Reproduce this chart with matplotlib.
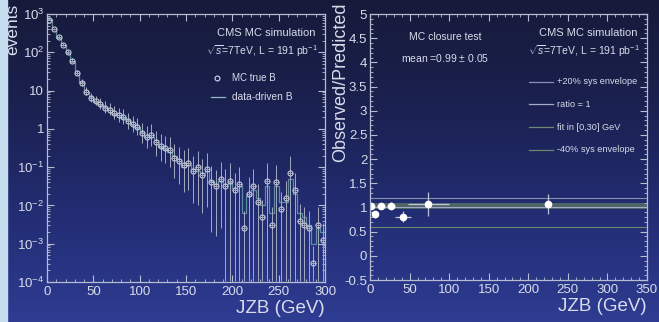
import numpy as np
import matplotlib
matplotlib.use("Agg")
import matplotlib.pyplot as plt
from matplotlib.ticker import MultipleLocator, FuncFormatter
from matplotlib.colors import LinearSegmentedColormap

plt.rcParams['font.family'] = ['Liberation Sans', 'DejaVu Sans']
plt.rcParams['mathtext.fontset'] = 'custom'
plt.rcParams['mathtext.rm'] = 'Liberation Sans'
plt.rcParams['mathtext.it'] = 'Liberation Sans:italic'
plt.rcParams['mathtext.bf'] = 'Liberation Sans:bold'

# ---------------- data: left panel ----------------
jzb_centers = [2.5 + 5 * i for i in range(60)]
mc_true_log = [2.85, 2.6, 2.4, 2.2, 2.0, 1.78, 1.45, 1.2, 0.97, 0.8,
               0.72, 0.65, 0.55, 0.5, 0.42, 0.35, 0.3, 0.2, 0.12, 0.05,
               -0.1, -0.2, -0.15, -0.35, -0.45, -0.5, -0.55, -0.75, -0.85, -0.95,
               -0.9, -1.1, -1.0, -1.2, -1.05, -1.4, -1.5, -1.3, -1.5, -1.35,
               -1.6, -1.45, -2.6, -1.7, -1.5, -1.9, -2.3, -1.35, -2.5, -1.4,
               -2.1, -1.8, -1.15, -1.6, -2.4, -2.5, -2.6, -3.5, -2.5, -2.9]
data_driven_log = [2.88, 2.62, 2.38, 2.18, 1.98, 1.75, 1.47, 1.22, 0.95, 0.82,
                   0.7, 0.63, 0.57, 0.48, 0.4, 0.37, 0.28, 0.22, 0.1, 0.02,
                   -0.08, -0.22, -0.2, -0.3, -0.48, -0.52, -0.6, -0.7, -0.8, -1.0,
                   -0.95, -1.05, -1.1, -1.15, -1.1, -1.35, -1.45, -1.35, -1.45, -1.4,
                   -1.55, -1.5, -2.2, -1.75, -1.6, -1.8, -2.0, -1.5, -2.2, -1.5,
                   -1.9, -1.9, -1.3, -1.7, -2.2, -2.3, -2.5, -3.0, -2.6, -2.7]
rel_err = [0.04, 0.05, 0.06, 0.07, 0.08, 0.1, 0.12, 0.15, 0.18, 0.2,
           0.22, 0.24, 0.26, 0.28, 0.3, 0.32, 0.34, 0.36, 0.38, 0.4,
           0.45, 0.5, 0.5, 0.55, 0.6, 0.6, 0.65, 0.7, 0.75, 0.8,
           0.8, 0.85, 0.9, 0.9, 0.9, 0.95, 0.95, 0.95, 1.0, 1.0,
           1.0, 1.0, 1.0, 1.0, 1.0, 1.0, 1.0, 1.0, 1.0, 1.0,
           1.0, 1.0, 1.0, 1.0, 1.0, 1.0, 1.0, 1.0, 1.0, 1.0]

# ---------------- data: right panel ----------------
ratio_x = [1.3, 6.3, 13.9, 26.5, 42.0, 73.7, 225.4]
ratio_xerr = [1.3, 2.5, 5.0, 5.0, 10.0, 26.0, 0.0]
ratio_y = [1.04, 0.86, 1.04, 1.04, 0.81, 1.08, 1.07]
ratio_yerr = [0.05, 0.07, 0.06, 0.08, 0.12, 0.25, 0.2]
fit_band = (0.96, 1.10)
envelope_up = 1.2
envelope_down = 0.6
ratio_one = 1.0

fig = plt.figure(figsize=(6.59, 3.22), dpi=100)

# background gradient
bg = fig.add_axes([0, 0, 1, 1], zorder=-10)
grad = np.linspace(0, 1, 256).reshape(-1, 1)
cmap = LinearSegmentedColormap.from_list("bg", ["#161a3a", "#1b2150", "#232d74", "#2e3c92"])
bg.imshow(grad, aspect='auto', cmap=cmap, extent=[0, 1, 0, 1], origin='upper')
bg.add_patch(plt.Rectangle((0, 0), 7 / 659, 1, color="#c5ddee", transform=bg.transAxes))
bg.set_axis_off()

fg = "#d8dcea"

def style(ax):
    ax.set_facecolor("none")
    for s in ax.spines.values():
        s.set_color("#b8bcd0")
        s.set_linewidth(0.9)
    ax.tick_params(which='both', direction='in', top=True, right=True, colors="#b8bcd0",
                   labelcolor=fg, labelsize=9.5)
    ax.tick_params(which='major', length=5, pad=3)
    ax.tick_params(which='minor', length=2.5)

# ---------------- left ----------------
ax1 = fig.add_axes([0.0713, 0.1242, 0.4219, 0.8323])
style(ax1)
x = np.array(jzb_centers)
vt = 10.0 ** np.array(mc_true_log)
vd = 10.0 ** np.array(data_driven_log)
re = np.array(rel_err)
up = vt * re * 1.8
lo = np.minimum(vt * re, vt - 1.05e-4)
ax1.step(np.r_[x - 2.5, 300], np.r_[vd, vd[-1]], where='post', color="#6aa6b0", lw=0.9, alpha=0.8)
ax1.errorbar(x, vt, yerr=[lo, up], xerr=2.5, fmt='o', ms=3.6, mfc='none', mec="#c4c8d8",
             ecolor="#a4aac0", elinewidth=0.7, mew=0.8, capsize=0)
ax1.set_yscale('log')
ax1.set_ylim(1e-4, 1e3)
ax1.set_xlim(0, 300)
ax1.xaxis.set_major_locator(MultipleLocator(50))
ax1.xaxis.set_minor_locator(MultipleLocator(10))
ax1.set_yticks([1e-4, 1e-3, 1e-2, 1e-1, 1, 10, 1e2, 1e3])
ax1.set_yticklabels([r'$10^{-4}$', r'$10^{-3}$', r'$10^{-2}$', r'$10^{-1}$', '1', '10',
                     r'$10^{2}$', r'$10^{3}$'])
ax1.tick_params(axis='y', pad=2)
ax1.set_xlabel("JZB (GeV)", color=fg, fontsize=13.5, loc='right', labelpad=1)
fig.text(13 / 659, 1 - 4 / 322, "events", rotation=90, ha='center', va='top', color=fg, fontsize=12.5)
ax1.text(0.965, 0.93, "CMS MC simulation", transform=ax1.transAxes, ha='right', va='center',
         color=fg, fontsize=8)
ax1.text(0.975, 0.86, r"$\sqrt{s}$=7TeV, L = 191 pb$^{-1}$", transform=ax1.transAxes, ha='right',
         va='center', color=fg, fontsize=7.5)
ax1.plot([0.61], [0.763], transform=ax1.transAxes, marker='o', ms=3.5, mfc='none', mec=fg, mew=0.8)
ax1.text(0.665, 0.763, "MC true B", transform=ax1.transAxes, ha='left', va='center', color=fg, fontsize=7)
ax1.plot([0.59, 0.64], [0.69, 0.69], transform=ax1.transAxes, color="#8fb8c0", lw=0.9)
ax1.text(0.665, 0.69, "data-driven B", transform=ax1.transAxes, ha='left', va='center', color=fg, fontsize=7.3)

# ---------------- right ----------------
ax2 = fig.add_axes([0.5615, 0.1304, 0.4203, 0.8261])
style(ax2)
ax2.set_xlim(0, 350)
ax2.set_ylim(-0.5, 5)
ax2.axhspan(fit_band[0], fit_band[1], color="#5d7a66", alpha=0.75, lw=0)
ax2.axhline(envelope_up, color="#8890b0", lw=0.8)
ax2.axhline(envelope_down, color="#6c8a70", lw=0.8)
ax2.axhline(ratio_one, color="#a8acc8", lw=0.7)
ax2.errorbar(ratio_x, ratio_y, xerr=ratio_xerr, yerr=ratio_yerr, fmt='o', ms=4.5, color="white",
             ecolor="#c0c4d8", elinewidth=0.9, capsize=0)
ax2.xaxis.set_major_locator(MultipleLocator(50))
ax2.xaxis.set_minor_locator(MultipleLocator(10))
ax2.yaxis.set_major_locator(MultipleLocator(0.5))
ax2.yaxis.set_minor_locator(MultipleLocator(0.1))
ax2.yaxis.set_major_formatter(FuncFormatter(lambda v, p: f"{v:g}"))
ax2.tick_params(axis='y', pad=2)
ax2.set_xlabel("JZB (GeV)", color=fg, fontsize=13.5, loc='right', labelpad=1)
fig.text(341 / 659, 1 - 3 / 322, "Observed/Predicted", rotation=90, ha='center', va='top',
         color=fg, fontsize=13)
ax2.text(0.27, 0.915, "MC closure test", transform=ax2.transAxes, ha='center', va='center',
         color=fg, fontsize=7.5)
ax2.text(0.27, 0.835, r"mean =0.99 $\pm$ 0.05", transform=ax2.transAxes, ha='center', va='center',
         color=fg, fontsize=7.5)
ax2.text(0.965, 0.93, "CMS MC simulation", transform=ax2.transAxes, ha='right', va='center',
         color=fg, fontsize=8)
ax2.text(0.975, 0.86, r"$\sqrt{s}$=7TeV, L = 191 pb$^{-1}$", transform=ax2.transAxes, ha='right',
         va='center', color=fg, fontsize=7.5)
leg_items = [("+20% sys envelope", "#8890b0", 0.745), ("ratio = 1", "#a8acc8", 0.66),
             ("fit in [0,30] GeV", "#6c8a70", 0.575), ("-40% sys envelope", "#6c8a70", 0.49)]
for lab, c, yy in leg_items:
    ax2.plot([0.575, 0.66], [yy, yy], transform=ax2.transAxes, color=c, lw=0.9)
    ax2.text(0.675, yy, lab, transform=ax2.transAxes, ha='left', va='center', color=fg, fontsize=6.6)

fig.savefig("out.png", dpi=100)
